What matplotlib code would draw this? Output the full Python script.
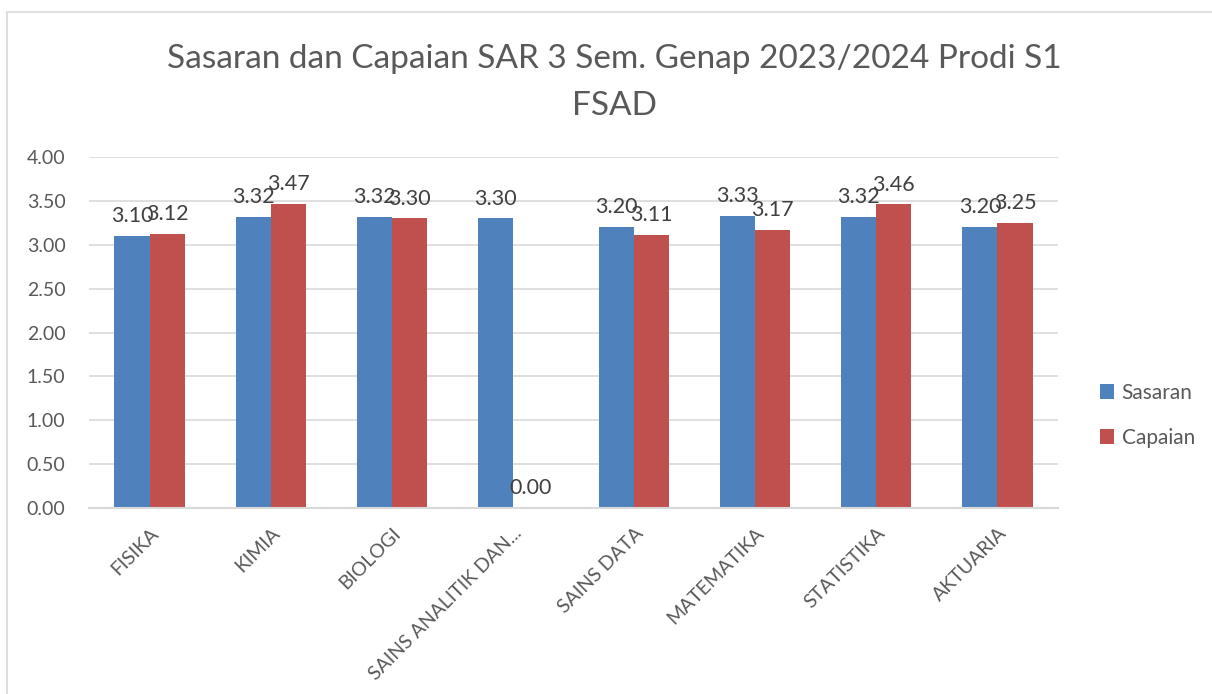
import matplotlib
matplotlib.use("Agg")
import matplotlib.pyplot as plt
import numpy as np
from matplotlib.patches import Rectangle

KATEGORI = ["FISIKA", "KIMIA", "BIOLOGI", "SAINS ANALITIK DAN...", "SAINS DATA",
            "MATEMATIKA", "STATISTIKA", "AKTUARIA"]
SASARAN = [3.10, 3.32, 3.32, 3.30, 3.20, 3.33, 3.32, 3.20]
CAPAIAN = [3.12, 3.47, 3.30, 0.00, 3.11, 3.17, 3.46, 3.25]
Y_TICKS = [0.0, 0.5, 1.0, 1.5, 2.0, 2.5, 3.0, 3.5, 4.0]

BIRU = "#4F81BD"
MERAH = "#C0504D"
ABU = "#595959"

plt.rcParams["font.family"] = ["Lato", "DejaVu Sans"]

fig = plt.figure(figsize=(12.12, 6.94), dpi=100)
# bingkai grafik
fig.patches.append(Rectangle((7 / 1212, -0.1), 1.2, (694 - 12) / 694 + 0.1,
                             transform=fig.transFigure, fill=False,
                             edgecolor="#d9d9d9", lw=1.2))
ax = fig.add_axes([89 / 1212, 1 - 508 / 694, 969 / 1212, 351 / 694])

x = np.arange(len(KATEGORI))
w = 0.29
b1 = ax.bar(x - w / 2, SASARAN, w, color=BIRU, label="Sasaran")
b2 = ax.bar(x + w / 2, CAPAIAN, w, color=MERAH, label="Capaian")

for bars, vals in ((b1, SASARAN), (b2, CAPAIAN)):
    for r, v in zip(bars, vals):
        ax.annotate(f"{v:.2f}", (r.get_x() + r.get_width() / 2, v),
                    xytext=(0, 7), textcoords="offset points",
                    ha="center", va="bottom", fontsize=15.5, color="#404040")

ax.set_ylim(0, 4)
ax.set_xlim(-0.5, len(KATEGORI) - 0.5)
ax.set_yticks(Y_TICKS)
ax.set_yticklabels([f"{t:.2f}" for t in Y_TICKS])
ax.grid(axis="y", color="#d9d9d9", lw=1.2)
ax.set_axisbelow(True)
for s in ("top", "right", "left"):
    ax.spines[s].set_visible(False)
ax.spines["bottom"].set_color("#d9d9d9")
ax.spines["bottom"].set_linewidth(1.5)
ax.tick_params(length=0, labelsize=14, colors=ABU, pad=17)
ax.tick_params(axis="x", pad=12)
ax.set_xticks(x)
ax.set_xticklabels(KATEGORI, rotation=45, ha="right", rotation_mode="anchor")

# judul dua baris
fig.text(0.507, 1 - 68 / 694, "Sasaran dan Capaian SAR 3 Sem. Genap 2023/2024 Prodi S1",
         ha="center", va="baseline", fontsize=24, color=ABU)
fig.text(0.507, 1 - 115 / 694, "FSAD",
         ha="center", va="baseline", fontsize=24, color=ABU)

fig.legend(handles=[b1, b2], loc="center left", bbox_to_anchor=(1081 / 1212, 1 - 415 / 694),
           frameon=False, fontsize=15, labelcolor=ABU, handlelength=0.7,
           handleheight=0.7, handletextpad=0.35, labelspacing=1.2)

fig.savefig("out.png", dpi=100)
